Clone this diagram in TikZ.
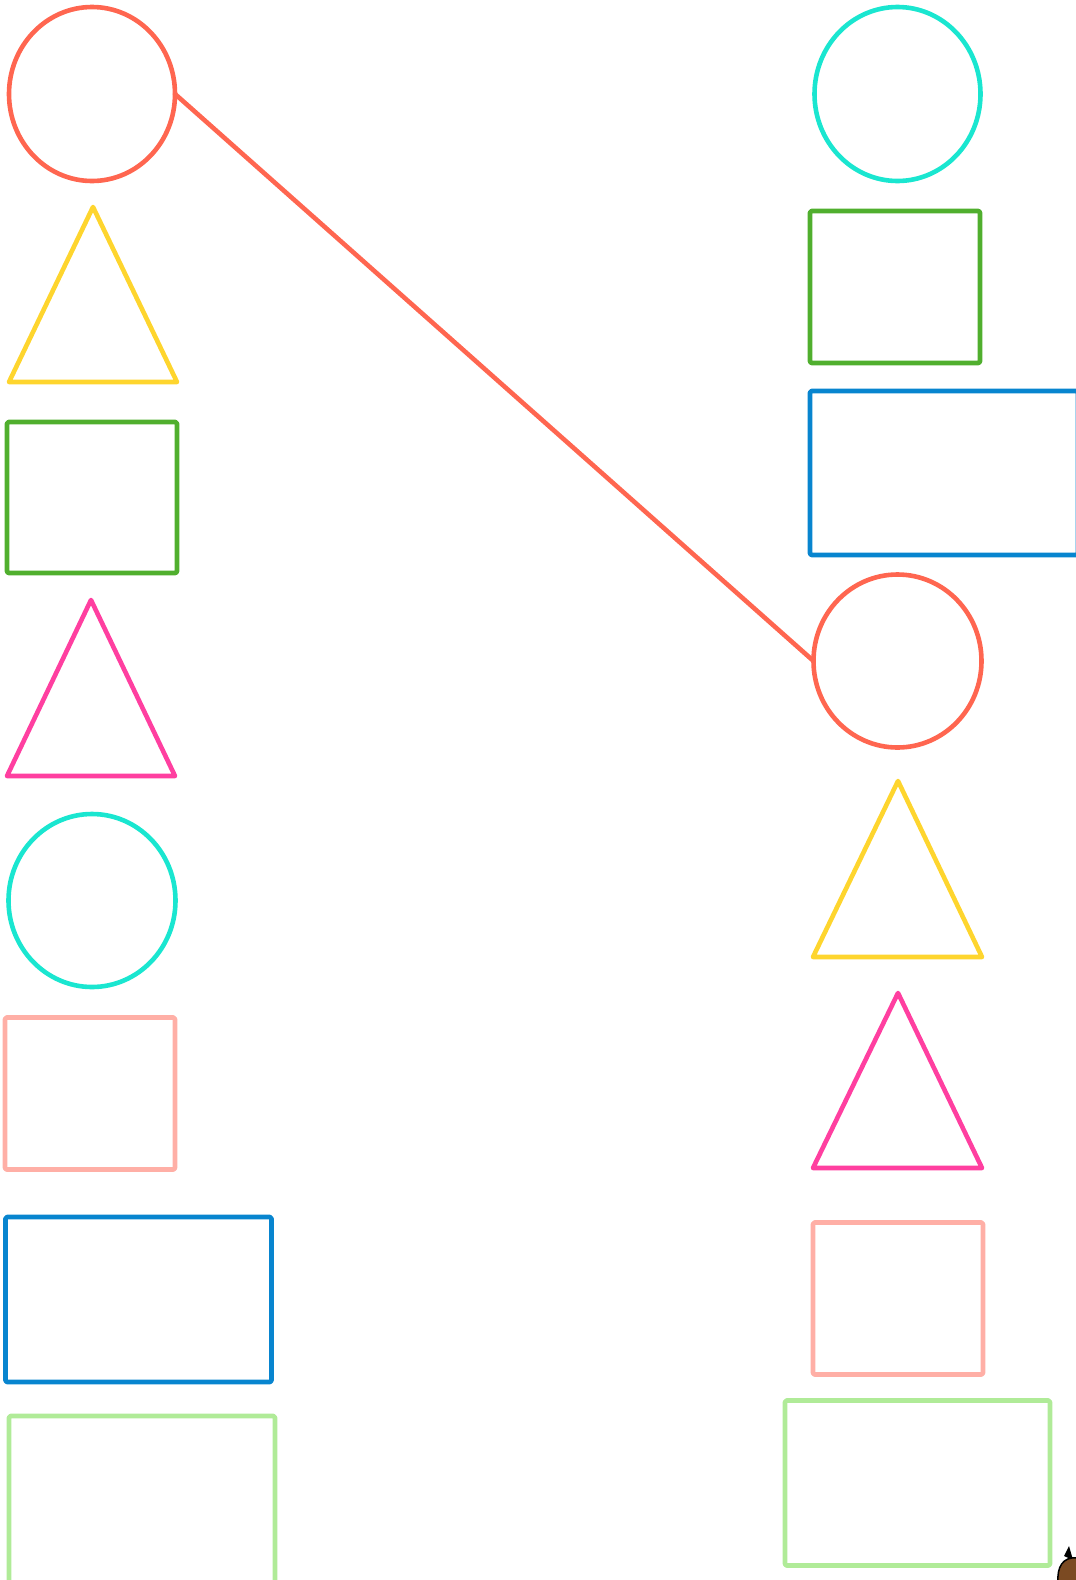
\documentclass[tikz,border=0pt]{standalone}
\usetikzlibrary{shapes.geometric}
\definecolor{cred}{HTML}{FF6650}
\definecolor{cyel}{HTML}{FED52E}
\definecolor{cgrn}{HTML}{50AF2E}
\definecolor{cpnk}{HTML}{FF3FA0}
\definecolor{ccyn}{HTML}{1AE6D0}
\definecolor{csal}{HTML}{FFAFA6}
\definecolor{cblu}{HTML}{0885CF}
\definecolor{clgr}{HTML}{B0EB98}
\definecolor{cbrn}{HTML}{7B4A22}
\tikzset{
  shp/.style={line width=4.6pt, line join=round},
  circ/.style={shp, draw, ellipse, inner sep=0pt, outer sep=0pt, minimum width=166pt, minimum height=174pt},
  rbox/.style={shp, draw, rectangle, rounded corners=1.5pt, inner sep=0pt, outer sep=0pt},
}
\begin{document}
\begin{tikzpicture}[x=1pt,y=-1pt]
\useasboundingbox (0,0) rectangle (1076,1580);
\clip (0,0) rectangle (1076,1580);
% left column
\node[circ, cred] (lc1) at (92,94) {};
\draw[shp, cyel] (93,207) -- (177,382) -- (9,382) -- cycle;
\node[rbox, cgrn, minimum width=170pt, minimum height=151pt] (lg) at (92,497.5) {};
\draw[shp, cpnk] (91,600) -- (175,776) -- (7,776) -- cycle;
\node[circ, ccyn, minimum width=167pt, minimum height=173pt] (lc2) at (92,900.5) {};
\node[rbox, csal, minimum width=170pt, minimum height=152pt] (ls) at (90,1093.5) {};
\node[rbox, cblu, minimum width=266pt, minimum height=165pt] (lb) at (138.5,1299.5) {};
\node[rbox, clgr, minimum width=266pt, minimum height=167pt] (ll) at (142,1499.5) {};
% right column
\node[circ, ccyn] (rc1) at (897.5,94) {};
\node[rbox, cgrn, minimum width=170pt, minimum height=152pt] (rg) at (895,287) {};
\node[rbox, cblu, minimum width=268pt, minimum height=164pt] (rb) at (944,473) {};
\node[circ, cred, minimum width=168pt, minimum height=173pt] (rc2) at (897.5,661) {};
\draw[shp, cyel] (898,781) -- (982,957) -- (813,957) -- cycle;
\draw[shp, cpnk] (898,993) -- (982,1168) -- (813,1168) -- cycle;
\node[rbox, csal, minimum width=170pt, minimum height=152pt] (rs) at (898,1298.5) {};
\node[rbox, clgr, minimum width=265pt, minimum height=165pt] (rl) at (917.5,1483) {};
% connector
\draw[shp, cred, line cap=round] (lc1.east) -- (rc2.west);
% partial figure at bottom-right corner
\fill[black] (1064,1556) -- (1069,1546) -- (1073,1560) -- cycle;
\draw[fill=cbrn, line width=1.5pt] (1078,1558) .. controls (1062,1556) and (1057,1568) .. (1058,1582) -- (1080,1582) -- cycle;
\end{tikzpicture}
\end{document}
